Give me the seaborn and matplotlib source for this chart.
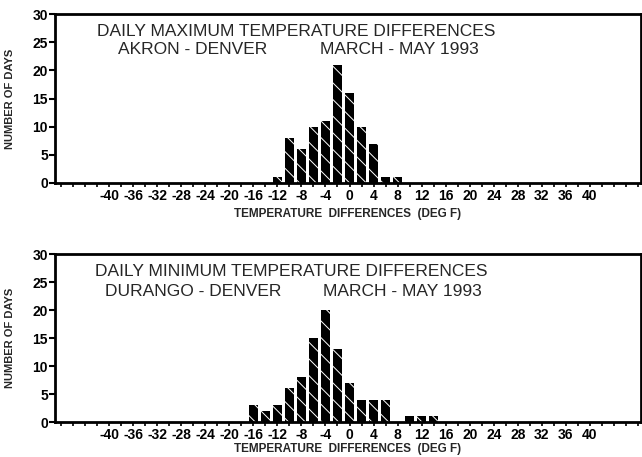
import matplotlib
matplotlib.use("Agg")
import matplotlib.pyplot as plt
import seaborn as sns
import numpy as np

# ---- data ----
temps_max = [-12, -10, -8, -6, -4, -2, 0, 2, 4, 6, 8]
days_max = [1, 8, 6, 10, 11, 21, 16, 10, 7, 1, 1]

temps_min = [-16, -14, -12, -10, -8, -6, -4, -2, 0, 2, 4, 6, 10, 12, 14]
days_min = [3, 2, 3, 6, 8, 15, 20, 13, 7, 4, 4, 4, 1, 1, 1]

xtick_values = list(range(-40, 41, 4))
xtick_labels = [str(v) for v in xtick_values]
ytick_values = [0, 5, 10, 15, 20, 25, 30]

title1_max = "DAILY MAXIMUM TEMPERATURE DIFFERENCES"
title2_max_left = "AKRON - DENVER"
title2_right = "MARCH - MAY 1993"
title1_min = "DAILY MINIMUM TEMPERATURE DIFFERENCES"
title2_min_left = "DURANGO - DENVER"
xlabel = "TEMPERATURE  DIFFERENCES  (DEG F)"
ylabel = "NUMBER OF DAYS"

sns.set_theme(style="white")
plt.rcParams["font.family"] = ["Liberation Sans", "DejaVu Sans"]
plt.rcParams["axes.unicode_minus"] = False
plt.rcParams["hatch.linewidth"] = 0.7

W, H = 642, 457
fig = plt.figure(figsize=(W / 100, H / 100), dpi=100)

def px_axes(left, top, right, bottom):
    return fig.add_axes([left / W, 1 - bottom / H, (right - left) / W, (bottom - top) / H])

ax1 = px_axes(55, 14, 641, 183)
ax2 = px_axes(55, 254, 641, 422)

def style(ax, temps, days, xl_y):
    sns.barplot(x=temps, y=days, native_scale=True, orient="x", errorbar=None,
                width=0.75, color="black", edgecolor="white", linewidth=0,
                hatch="\\\\", ax=ax)
    ax.set_xlim(-49, 48.5)
    ax.set_ylim(0, 30)
    ax.set_xticks(xtick_values)
    ax.set_xticklabels(xtick_labels, fontsize=10, fontweight="bold")
    ax.set_xticks(list(range(-48, 49, 2)), minor=True)
    ax.set_yticks(ytick_values)
    ax.set_yticklabels([str(v) for v in ytick_values], fontsize=10, fontweight="bold")
    ax.tick_params(axis="x", which="both", direction="out", length=3, width=1.2,
                   bottom=True, pad=1, colors="black")
    ax.tick_params(axis="y", which="major", direction="out", length=4, width=1.5,
                   left=True, pad=1, colors="black")
    for s in ax.spines.values():
        s.set_visible(True)
        s.set_color("black")
        s.set_linewidth(2)
    ax.set_xlabel(xlabel, fontsize=8.5, fontweight="bold", va="top")
    ax.xaxis.set_label_coords(0.5, xl_y)
    ax.set_ylabel(ylabel, fontsize=8, fontweight="bold")
    ax.yaxis.set_label_coords(-0.068, 0.5)
    ax.grid(False)

style(ax1, temps_max, days_max, -0.145)
style(ax2, temps_min, days_min, -0.125)

tfs = 12.5
fig.text(97 / W, 1 - 32 / H, title1_max, fontsize=tfs, ha="left", va="center")
fig.text(118 / W, 1 - 50 / H, title2_max_left, fontsize=tfs, ha="left", va="center")
fig.text(320 / W, 1 - 50 / H, title2_right, fontsize=tfs, ha="left", va="center")
fig.text(95 / W, 1 - 272 / H, title1_min, fontsize=tfs, ha="left", va="center")
fig.text(105 / W, 1 - 292 / H, title2_min_left, fontsize=tfs, ha="left", va="center")
fig.text(323 / W, 1 - 292 / H, title2_right, fontsize=tfs, ha="left", va="center")

fig.savefig("out.png", dpi=100)
